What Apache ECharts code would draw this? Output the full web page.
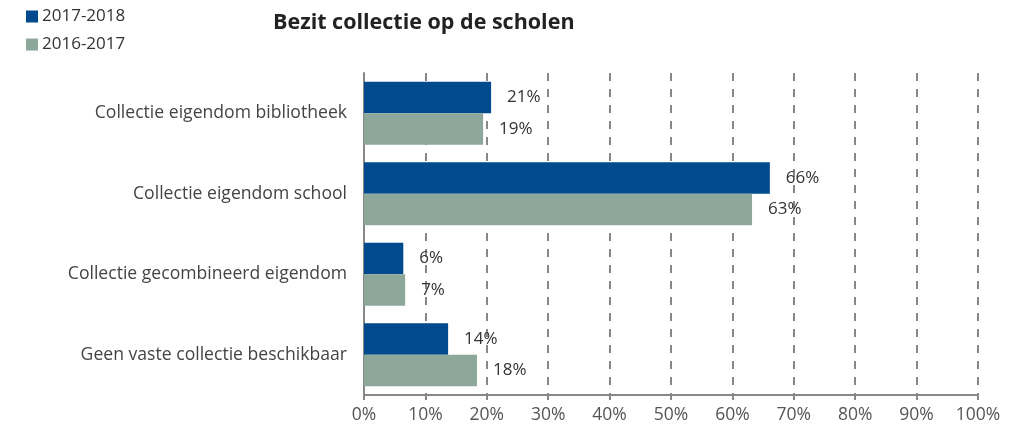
<!DOCTYPE html>
<html>
<head>
    <meta charset="UTF-8">
    <title>Bezit collectie op de scholen</title>
    <script src="https://cdn.jsdelivr.net/npm/echarts@6/dist/echarts.min.js"></script>
    <style>
        body { margin: 0; background: #fff; }
    </style>
</head>
<body>
<div id="main" style="width:1018px;height:428px;"></div>
<script type="text/javascript">
    // categorieen (van boven naar beneden)
    var categories = [
        'Collectie eigendom bibliotheek',
        'Collectie eigendom school',
        'Collectie gecombineerd eigendom',
        'Geen vaste collectie beschikbaar'
    ];
    var seriesNames = ['2017-2018', '2016-2017'];
    var values2017 = [20.7, 66.1, 6.4, 13.7];
    var values2016 = [19.4, 63.2, 6.7, 18.4];

    var font = 'Open Sans';
    var myChart = echarts.init(document.getElementById('main'));

    var label = {
        show: true,
        position: 'right',
        distance: 16,
        color: '#333',
        fontSize: 17,
        fontFamily: font,
        formatter: function (p) { return Math.round(p.value) + '%'; }
    };

    myChart.setOption({
        animation: false,
        title: {
            text: 'Bezit collectie op de scholen',
            left: 268,
            top: 7,
            textStyle: { color: '#222', fontSize: 21.5, fontWeight: 'bold', fontFamily: font }
        },
        legend: {
            data: seriesNames,
            orient: 'vertical',
            left: 21,
            top: 3,
            itemWidth: 12,
            itemHeight: 12,
            itemGap: 11,
            icon: 'rect',
            textStyle: { color: '#333', fontSize: 17, fontFamily: font, padding: [0, 0, 0, -1] }
        },
        grid: { left: 364, right: 40, top: 73, bottom: 33 },
        xAxis: {
            type: 'value',
            min: 0,
            max: 100,
            interval: 10,
            axisLine: { show: true, lineStyle: { color: '#888', width: 2 } },
            axisTick: { show: true, length: 5, lineStyle: { color: '#888', width: 2 } },
            axisLabel: { color: '#555', fontSize: 17.5, fontFamily: font, margin: 11,
                formatter: '{value}%' },
            splitLine: { show: true, lineStyle: { color: '#888', width: 2, type: [8, 8] } }
        },
        yAxis: {
            type: 'category',
            data: categories,
            inverse: true,
            axisLine: { show: true, lineStyle: { color: '#888', width: 2 } },
            axisTick: { show: false },
            axisLabel: { color: '#444', fontSize: 17.6, fontFamily: font, margin: 17 }
        },
        series: [{
            name: seriesNames[0],
            type: 'bar',
            data: values2017,
            barGap: '0%',
            barCategoryGap: '22%',
            itemStyle: { color: '#004A8D' },
            label: label
        }, {
            name: seriesNames[1],
            type: 'bar',
            data: values2016,
            itemStyle: { color: '#8DA89A' },
            label: label
        }]
    });
</script>
</body>
</html>
